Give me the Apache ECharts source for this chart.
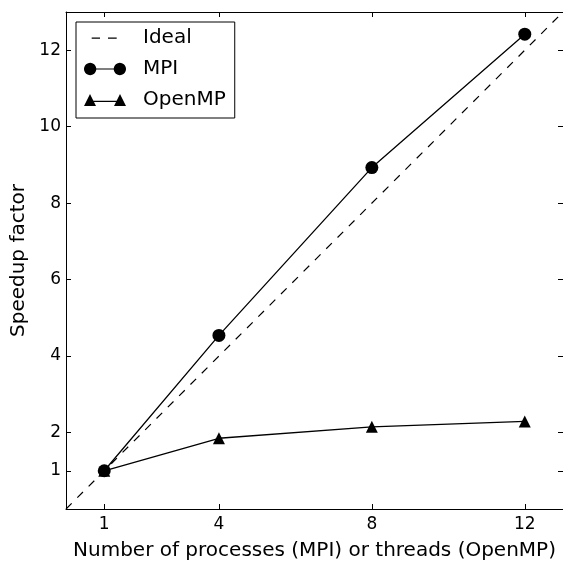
<!DOCTYPE html>
<html>
<head>
<meta charset="utf-8">
<script src="https://cdn.jsdelivr.net/npm/echarts@6/dist/echarts.min.js"></script>
<style>html,body{margin:0;padding:0;background:#fff}#c{width:563px;height:561px}</style>
</head>
<body>
<div id="c"></div>
<script>
var xValues = [1, 4, 8, 12];
var mpiValues = [1, 4.54, 8.93, 12.42];
var openmpValues = [1, 1.85, 2.15, 2.29];
var idealX = [0, 13];
var xTicks = [1, 4, 8, 12];
var yTicks = [1, 2, 4, 6, 8, 10, 12];
var seriesNames = ['Ideal', 'MPI', 'OpenMP'];

var FONT = 'DejaVu Sans';
var chart = echarts.init(document.getElementById('c'), null, {renderer: 'canvas'});

function pairs(xs, ys) { return xs.map(function (x, i) { return [x, ys[i]]; }); }

function axisCommon(extra) {
  return Object.assign({
    type: 'value', min: 0, max: 13,
    axisLine: {show: true, onZero: false, lineStyle: {color: '#000', width: 1}},
    splitLine: {show: false}
  }, extra);
}

// legend icon shapes (42 x 13 box)
function circlePath(cx, cy, r) {
  var s = '';
  for (var i = 0; i < 36; i++) {
    var a = i / 36 * Math.PI * 2;
    s += (i === 0 ? 'M' : 'L') + (cx + r * Math.cos(a)).toFixed(2) + ',' + (cy + r * Math.sin(a)).toFixed(2);
  }
  return s + 'Z';
}
var box = 'M0,0h0.01v0.01h-0.01Z M41.99,12.99h0.01v0.01h-0.01Z';
var circleIcon = 'path://' + box + ' ' + circlePath(6, 6.5, 6.2) + ' M6,5.9h30v1.2h-30Z ' + circlePath(36, 6.5, 6.2);
var triIcon = 'path://' + box + ' M0,12.5L6,0.5L12,12.5Z M6,7.2h30v1.2h-30Z M30,12.5L36,0.5L42,12.5Z';
var dashIcon = 'path://' + box + ' M7.7,5.9h8.3v1.3h-8.3Z M24,5.9h8.7v1.3h-8.7Z';

chart.setOption({
  animation: false,
  backgroundColor: '#fff',
  textStyle: {fontFamily: FONT},
  grid: {left: 66, top: 12, width: 497, height: 497, containLabel: false, outerBoundsMode: 'none'},
  legend: {
    orient: 'vertical', left: 76, top: 22,
    data: [
      {name: seriesNames[0], icon: dashIcon},
      {name: seriesNames[1], icon: circleIcon},
      {name: seriesNames[2], icon: triIcon}
    ],
    itemWidth: 42, itemHeight: 13, itemGap: 11,
    padding: [6, 9, 8, 8],
    borderColor: '#000', borderWidth: 1, borderRadius: 0,
    backgroundColor: '#fff',
    textStyle: {fontFamily: FONT, fontSize: 20, color: '#000', padding: [0, 0, 0, 12]},
    itemStyle: {color: '#000', borderWidth: 0},
    lineStyle: {width: 0},
    selectedMode: false
  },
  xAxis: [
    axisCommon({
      position: 'bottom',
      name: 'Number of processes (MPI) or threads (OpenMP)',
      nameLocation: 'middle', nameGap: 32,
      nameTextStyle: {fontFamily: FONT, fontSize: 20, color: '#000'},
      axisTick: {show: true, inside: true, length: 5, customValues: xTicks, lineStyle: {color: '#000'}},
      axisLabel: {show: true, customValues: xTicks, fontFamily: FONT, fontSize: 17, color: '#000', margin: 7}
    }),
    axisCommon({
      position: 'top',
      axisTick: {show: true, inside: true, length: 5, customValues: xTicks, lineStyle: {color: '#000'}},
      axisLabel: {show: false}
    })
  ],
  yAxis: [
    axisCommon({
      position: 'left',
      name: 'Speedup factor',
      nameLocation: 'middle', nameGap: 36,
      nameTextStyle: {fontFamily: FONT, fontSize: 20, color: '#000'},
      axisTick: {show: true, inside: true, length: 5, customValues: yTicks, lineStyle: {color: '#000'}},
      axisLabel: {show: true, customValues: yTicks, fontFamily: FONT, fontSize: 17, color: '#000', margin: 5}
    }),
    axisCommon({
      position: 'right',
      axisTick: {show: true, inside: true, length: 5, customValues: yTicks, lineStyle: {color: '#000'}},
      axisLabel: {show: false}
    })
  ],
  series: [
    {
      name: seriesNames[0], type: 'line', xAxisIndex: 0, yAxisIndex: 0,
      data: pairs(idealX, idealX), showSymbol: false, symbol: 'none',
      lineStyle: {color: '#000', width: 1.2, type: [8, 8]},
      itemStyle: {color: '#000'}, z: 1
    },
    {
      name: seriesNames[1], type: 'line', xAxisIndex: 0, yAxisIndex: 0,
      data: pairs(xValues, mpiValues), symbol: 'circle', symbolSize: 13,
      lineStyle: {color: '#000', width: 1.3},
      itemStyle: {color: '#000'}, z: 3
    },
    {
      name: seriesNames[2], type: 'line', xAxisIndex: 0, yAxisIndex: 0,
      data: pairs(xValues, openmpValues), symbol: 'triangle', symbolSize: 12,
      lineStyle: {color: '#000', width: 1.3},
      itemStyle: {color: '#000'}, z: 2
    }
  ]
});
</script>
</body>
</html>
